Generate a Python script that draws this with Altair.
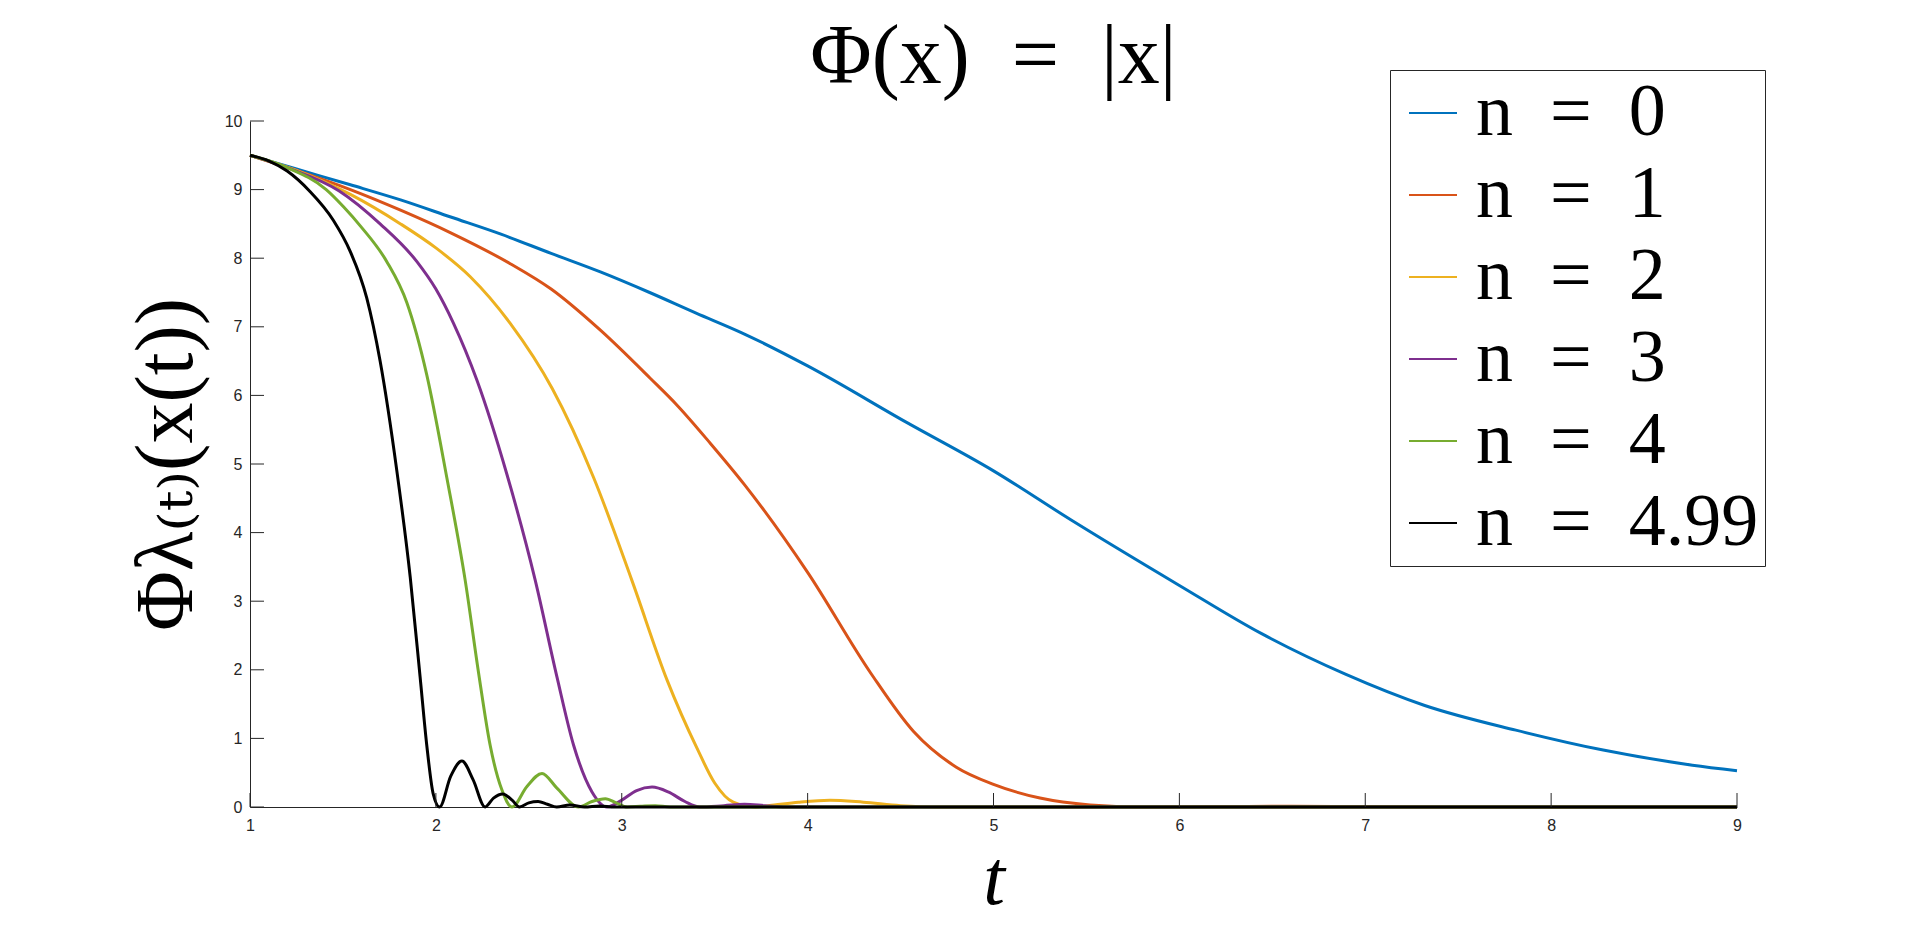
import altair as alt
import pandas as pd

# ---------------- data ----------------
series_names = ["n\u2002=\u20020", "n\u2002=\u20021", "n\u2002=\u20022",
                "n\u2002=\u20023", "n\u2002=\u20024", "n\u2002=\u20024.99"]
series_colors = ["#0072BD", "#D95319", "#EDB120", "#7E2F8E", "#77AC30", "#000000"]

t_n0 = [1.0, 1.25, 1.54, 1.81, 2.08, 2.35, 2.62, 2.885, 3.15, 3.4, 3.64, 4.0, 4.53, 5.0, 5.42, 6.0,
        6.44, 6.89, 7.32, 7.81, 8.28, 8.76, 9.0]
v_n0 = [9.5, 9.3, 9.07, 8.85, 8.6, 8.35, 8.07, 7.8, 7.5, 7.2, 6.92, 6.43, 5.61, 4.9, 4.18, 3.23,
        2.53, 1.94, 1.48, 1.12, 0.83, 0.61, 0.53]

t_n1 = [1.0, 1.25, 1.54, 1.81, 2.08, 2.4, 2.62, 2.885, 3.153, 3.3, 3.477, 3.66, 4.0, 4.34, 4.57,
        4.8, 5.0, 5.25, 5.52, 5.8, 6.2, 6.6, 7.0, 7.4, 9.0]
v_n1 = [9.5, 9.28, 9.0, 8.7, 8.37, 7.92, 7.55, 6.95, 6.25, 5.85, 5.3, 4.7, 3.42, 1.95, 1.1,
        0.58, 0.33, 0.13, 0.03, 0.0, 0.006, 0.01, 0.006, 0.0, 0.0]

t_n2 = [1.0, 1.25, 1.54, 1.81, 2.0, 2.185, 2.4, 2.626, 2.849, 3.055, 3.244, 3.406, 3.5,
        3.6, 3.72, 3.82, 3.95, 4.12, 4.3, 4.5, 4.7, 9.0]
v_n2 = [9.5, 9.28, 8.93, 8.5, 8.15, 7.73, 7.05, 6.1, 4.8, 3.3, 1.85, 0.85, 0.35,
        0.07, 0.0, 0.03, 0.07, 0.1, 0.07, 0.02, 0.0, 0.0]

t_n3 = [1.0, 1.2, 1.48, 1.7, 1.898, 2.0, 2.095, 2.221, 2.382, 2.535, 2.651, 2.741, 2.84,
        2.92, 3.0, 3.08, 3.163, 3.25, 3.34, 3.42, 3.55, 3.66, 3.77, 3.88, 9.0]
v_n3 = [9.5, 9.32, 8.98, 8.5, 7.95, 7.55, 7.05, 6.22, 4.85, 3.3, 1.9, 0.9, 0.22,
        0.0, 0.1, 0.24, 0.29, 0.22, 0.08, 0.0, 0.02, 0.04, 0.02, 0.0, 0.0]

t_n4 = [1.0, 1.2, 1.41, 1.503, 1.6, 1.736, 1.844, 1.951, 2.059, 2.158, 2.23, 2.292,
        2.355, 2.409, 2.49, 2.571, 2.65, 2.768, 2.84, 2.912, 2.97, 3.03, 3.1, 3.18, 3.26, 9.0]
v_n4 = [9.5, 9.32, 9.0, 8.75, 8.45, 7.95, 7.35, 6.3, 4.8, 3.3, 1.95, 0.9,
        0.25, 0.0, 0.3, 0.49, 0.28, 0.0, 0.08, 0.12, 0.06, 0.0, 0.01, 0.02, 0.0, 0.0]

t_n5 = [1.0, 1.1, 1.2, 1.32, 1.449, 1.539, 1.628, 1.70, 1.79, 1.862, 1.915, 1.951,
        1.985, 2.02, 2.08, 2.14, 2.2, 2.265, 2.31, 2.36, 2.41, 2.45, 2.5, 2.55, 2.6, 2.65, 2.72,
        2.8, 2.88, 2.96, 9.0]
v_n5 = [9.5, 9.42, 9.27, 8.98, 8.55, 8.1, 7.42, 6.5, 4.9, 3.35, 1.9, 0.9,
        0.2, 0.0, 0.45, 0.67, 0.4, 0.0, 0.13, 0.19, 0.1, 0.0, 0.06, 0.08, 0.04, 0.0, 0.03,
        0.0, 0.015, 0.0, 0.0]

x_ticks = [1, 2, 3, 4, 5, 6, 7, 8, 9]
y_ticks = [0, 1, 2, 3, 4, 5, 6, 7, 8, 9, 10]

# ---------------- build table ----------------
all_t = [t_n0, t_n1, t_n2, t_n3, t_n4, t_n5]
all_v = [v_n0, v_n1, v_n2, v_n3, v_n4, v_n5]
rows = []
for name, ts, vs in zip(series_names, all_t, all_v):
    for i, (t, v) in enumerate(zip(ts, vs)):
        rows.append({"series": name, "t": t, "v": v, "order": i})
df = pd.DataFrame(rows)

AXIS_COLOR = "#262626"
W, H = 1487, 686
TICK_LEN = 14

x_scale = alt.Scale(domain=[1, 9], nice=False, zero=False)
y_scale = alt.Scale(domain=[0, 10], nice=False, zero=False)

x_axis = alt.Axis(values=x_ticks, ticks=False, grid=False, domainColor=AXIS_COLOR,
                  domainWidth=1, labelColor=AXIS_COLOR, labelFont="Liberation Sans",
                  labelFontSize=16, labelPadding=10, labelFlush=False,
                  title="t", titleFont="Liberation Serif", titleFontSize=78,
                  titleFontStyle="italic", titleFontWeight="normal", titleColor="black",
                  titlePadding=8)
y_axis = alt.Axis(values=y_ticks, ticks=False, grid=False, domainColor=AXIS_COLOR,
                  domainWidth=1, labelColor=AXIS_COLOR, labelFont="Liberation Sans",
                  labelFontSize=16, labelPadding=8, labelFlush=False,
                  title="\u03a6\u03bb\u208d\u209c\u208e(x(t))",
                  titleFont="Liberation Serif, DejaVu Serif", titleFontSize=82,
                  titleFontWeight="normal", titleColor="black", titlePadding=16)

lines = alt.Chart(df).mark_line(strokeWidth=3, interpolate="monotone").encode(
    x=alt.X("t:Q", scale=x_scale, axis=x_axis),
    y=alt.Y("v:Q", scale=y_scale, axis=y_axis),
    color=alt.Color("series:N",
                    scale=alt.Scale(domain=series_names, range=series_colors),
                    legend=alt.Legend(title=None, orient="none", legendX=1140, legendY=-51,
                                      symbolType="stroke", symbolSize=2304,
                                      symbolStrokeWidth=1.8, labelFont="Liberation Serif",
                                      labelFontSize=74, labelLimit=600, labelOffset=6,
                                      labelColor="black", rowPadding=8, padding=6,
                                      strokeColor=AXIS_COLOR, fillColor="white",
                                      cornerRadius=0)),
    detail="series:N",
    order="order:Q",
)

# inward tick marks (MATLAB style), positioned through the shared scales
yticks = alt.Chart(pd.DataFrame({"v": y_ticks})).mark_rule(
    color=AXIS_COLOR, strokeWidth=1).encode(
    y=alt.Y("v:Q", scale=y_scale, axis=y_axis),
    x=alt.value(0), x2=alt.value(TICK_LEN),
)

xticks = alt.Chart(pd.DataFrame({"t": x_ticks})).mark_rule(
    color=AXIS_COLOR, strokeWidth=1).encode(
    x=alt.X("t:Q", scale=x_scale, axis=x_axis),
    y=alt.value(H), y2=alt.value(H - TICK_LEN),
)

chart = alt.layer(lines, yticks, xticks).properties(
    width=W, height=H,
    autosize=alt.AutoSizeParams(type="none"),
    padding={"left": 242, "top": 113, "right": 160, "bottom": 115},
    title=alt.TitleParams(text="\u03a6(x)\u2002=\u2002|x|", font="Liberation Serif",
                          fontSize=84, fontWeight="normal", color="black",
                          anchor="middle", baseline="alphabetic", offset=0, dy=97),
).configure(background="white").configure_view(stroke=None)

chart.save("out.html", embed_options={"renderer": "svg", "actions": False})
